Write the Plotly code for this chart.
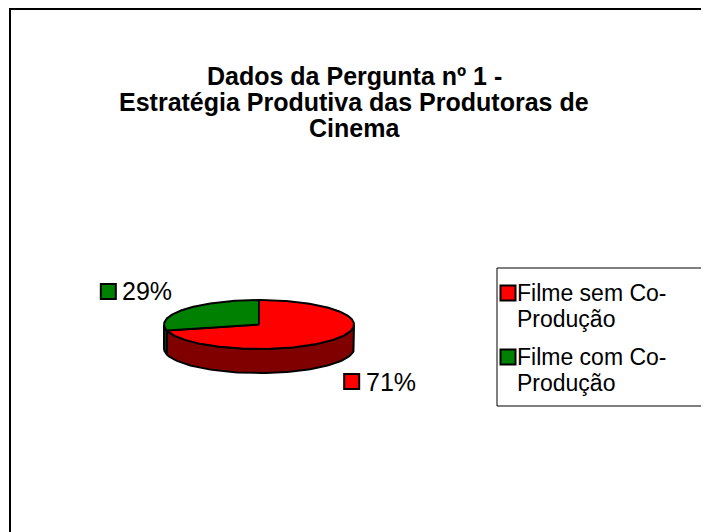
import numpy as np
import plotly.graph_objects as go

# ---- data ----
categories = ["Filme sem Co-Produção", "Filme com Co-Produção"]
legend_lines = [["Filme sem Co-", "Produção"], ["Filme com Co-", "Produção"]]
shares = [71, 29]
top_colors = ["#FF0000", "#008000"]
side_colors = ["#800000", "#004000"]
title_lines = ["Dados da Pergunta nº 1 -", "Estratégia Produtiva das Produtoras de", "Cinema"]

# ---- layout constants (pixels of the window) ----
W, H = 709, 532
OFF = 8  # page body margin
CX, CY, RX, RY, DEPTH = 259, 324.5, 95, 24.5, 24
FONT = "Liberation Sans, Arial, sans-serif"
TXT = 23
LBL = 25

fig = go.Figure()


def pt(a, dy=0.0):
    r = np.radians(a)
    return CX + RX * np.cos(r), CY - RY * np.sin(r) + dy


total = float(sum(shares))
start = 90.0
slices = []
for v in shares:
    sweep = 360.0 * v / total
    slices.append((start - sweep, start))
    start -= sweep

# sides (front half only)
for (a0, a1), col in zip(slices, side_colors):
    for lo, hi in [(-180, 0), (-540, -360), (180, 360)]:
        s0, s1 = max(a0, lo), min(a1, hi)
        if s1 <= s0:
            continue
        ang = np.linspace(s0, s1, 80)
        xt, yt = pt(ang)
        xb, yb = pt(ang[::-1], DEPTH)
        xs = np.concatenate([xt, xb, xt[:1]])
        ys = np.concatenate([yt, yb, yt[:1]])
        fig.add_trace(go.Scatter(x=xs, y=ys, mode="lines", fill="toself",
                                 fillcolor=col, line=dict(color="black", width=2),
                                 hoverinfo="skip", showlegend=False))

# tops
for (a0, a1), col, name in zip(slices, top_colors, categories):
    ang = np.linspace(a0, a1, 200)
    xa, ya = pt(ang)
    xs = np.concatenate([[CX], xa, [CX]])
    ys = np.concatenate([[CY], ya, [CY]])
    fig.add_trace(go.Scatter(x=xs, y=ys, mode="lines", fill="toself",
                             fillcolor=col, line=dict(color="black", width=2),
                             hoverinfo="skip", showlegend=False, name=name))

annotations = []
# data labels
for (a0, a1), col, v in zip(slices, top_colors, shares):
    mid = np.radians((a0 + a1) / 2.0)
    lx = CX + 154 * np.cos(mid)
    ly = CY - 54 * np.sin(mid) + (DEPTH if np.sin(mid) < 0 else 0)
    fig.add_trace(go.Scatter(x=[lx - 29], y=[ly], mode="markers",
                             marker=dict(symbol="square", size=15, color=col,
                                         line=dict(color="black", width=2)),
                             hoverinfo="skip", showlegend=False))
    annotations.append(dict(x=lx - 17, y=ly, xref="x", yref="y", text=f"{round(100 * v / total)}%",
                            showarrow=False, xanchor="left", yanchor="middle",
                            font=dict(family=FONT, size=LBL, color="black")))

# title
for i, line in enumerate(title_lines):
    annotations.append(dict(x=354, y=76 + 26 * i, xref="x", yref="y", text=f"<b>{line}</b>",
                            showarrow=False, xanchor="center", yanchor="middle",
                            font=dict(family=FONT, size=25, color="black")))

# legend
leg_y = [293, 357]
for (l1, l2), col, y in zip(legend_lines, top_colors, leg_y):
    fig.add_trace(go.Scatter(x=[508], y=[y], mode="markers",
                             marker=dict(symbol="square", size=15, color=col,
                                         line=dict(color="black", width=2)),
                             hoverinfo="skip", showlegend=False))
    annotations.append(dict(x=515, y=y, xref="x", yref="y", text=l1, showarrow=False,
                            xanchor="left", yanchor="middle",
                            font=dict(family=FONT, size=TXT, color="black")))
    annotations.append(dict(x=515, y=y + 26, xref="x", yref="y", text=l2, showarrow=False,
                            xanchor="left", yanchor="middle",
                            font=dict(family=FONT, size=TXT, color="black")))

shapes = [
    dict(type="rect", xref="x", yref="y", x0=10, y0=9, x1=730, y1=560,
         line=dict(color="black", width=2), fillcolor="rgba(0,0,0,0)", layer="below"),
    dict(type="rect", xref="x", yref="y", x0=497, y0=268, x1=708, y1=406,
         line=dict(color="black", width=1), fillcolor="white", layer="below"),
]

fig.update_layout(
    width=W - OFF, height=H - OFF, autosize=False,
    margin=dict(l=0, r=0, t=0, b=0, pad=0),
    paper_bgcolor="white", plot_bgcolor="white",
    xaxis=dict(range=[OFF, W], visible=False, fixedrange=True),
    yaxis=dict(range=[H, OFF], visible=False, fixedrange=True),
    annotations=annotations, shapes=shapes, showlegend=False,
)

fig.write_html("out.html", config={"displayModeBar": False})
